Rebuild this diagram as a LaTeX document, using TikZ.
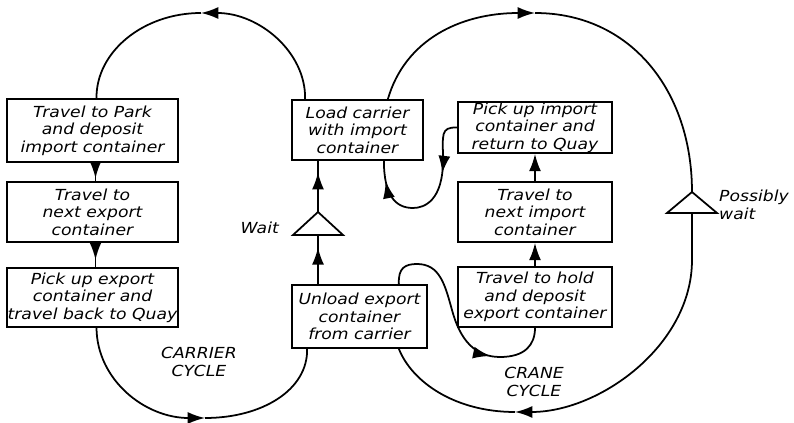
\documentclass[tikz,border=0pt]{standalone}
\usepackage{fontspec}
\newfontfamily\diagfont{DejaVu Sans}[FakeStretch=1.13]
\usetikzlibrary{positioning,calc,arrows.meta,decorations.markings}

\tikzset{
  stage/.style={draw,line width=1.5pt,align=center,inner sep=0pt,
    font=\diagfont\itshape\fontsize{13}{15}\selectfont},
  note/.style={align=center,inner sep=0pt,
    font=\diagfont\itshape\fontsize{13}{15.4}\selectfont},
  flow/.style={line width=1.5pt},
  tipat/.style={postaction={decorate,decoration={markings,
    mark=at position #1 with {\arrow{>}}}}}
}

\begin{document}
\begin{tikzpicture}[x=0.3mm,y=-0.3mm,>={Latex[length=5.2mm,width=3.6mm]}]
  \useasboundingbox (0,0) rectangle (794,423);

  % carrier side
  \node[stage,minimum width=51.3mm,minimum height=18.9mm] (park) at (92.5,130.5) {Travel to Park\\and deposit\\import container};
  \node[stage,minimum width=51.3mm,minimum height=18mm] (nextexp) at (92.5,212) {Travel to\\next export\\container};
  \node[stage,minimum width=51.3mm,minimum height=17.7mm] (pickexp) at (92.5,297.5) {Pick up export\\container and\\travel back to Quay};

  % quay
  \node[stage,minimum width=39.3mm,minimum height=18mm] (load) at (357.5,130) {Load carrier\\with import\\container};
  \node[stage,minimum width=40.5mm,minimum height=18.9mm] (unload) at (359.5,316.5) {Unload export\\container\\from carrier};

  % crane side
  \node[stage,minimum width=46.2mm,minimum height=15.3mm] (pickimp) at (535,127.5) {Pick up import\\container and\\return to Quay};
  \node[stage,minimum width=46.2mm,minimum height=18mm] (nextimp) at (535,212) {Travel to\\next import\\container};
  \node[stage,minimum width=46.2mm,minimum height=18mm] (hold) at (535,297) {Travel to hold\\and deposit\\export container};

  % queues
  \coordinate (waittop) at (318,212);
  \coordinate (waitbase) at (318,235);
  \draw[flow] (waittop) -- ++(25,23) -- ++(-50,0) -- cycle;
  \node[note,anchor=east] (waitlbl) at (279,228) {Wait};
  \coordinate (posstop) at (692,192);
  \coordinate (possbase) at (692,213);
  \draw[flow] (posstop) -- ++(25,21) -- ++(-50,0) -- cycle;
  \node[note,anchor=west,align=left] (posslbl) at (719,205) {Possibly\\wait};

  \node[note] (carrierlbl) at (199,362) {CARRIER\\CYCLE};
  \node[note] (cranelbl) at (534,382) {CRANE\\CYCLE};

  \coordinate (cartop) at (201,13);
  \coordinate (carbot) at (205,418);
  \coordinate (cranetop) at (535,13);
  \coordinate (cranebot) at (515,412);

  % carrier cycle
  \draw[flow,tipat=0.85] ($(park.south)+(3,0)$) -- ($(nextexp.north)+(3,0)$);
  \draw[flow,tipat=0.7] ($(nextexp.south)+(3,0)$) -- ($(pickexp.north)+(3,0)$);
  \draw[flow,->] ($(pickexp.south)+(4,0)$) .. controls (97,380) and (145,418) .. (carbot);
  \draw[flow] (carbot) .. controls (262,418) and (308,390) .. ($(unload.south west)+(16,0)$);
  \draw[flow,tipat=0.75] (unload.north -| waitbase) -- (waitbase);
  \draw[flow,tipat=0.78] (waittop) -- (load.south -| waittop);
  \draw[flow,->] ($(load.north west)+(14,0)$) .. controls (306,52) and (259,13) .. (cartop);
  \draw[flow] (cartop) .. controls (143,13) and (96,52) .. ($(park.north)+(4,0)$);

  % crane cycle
  \draw[flow,->] ($(load.north east)+(-36,0)$) .. controls (405,40) and (460,13) .. (cranetop);
  \draw[flow] (cranetop) .. controls (630,13) and (692,90) .. (posstop);
  \draw[flow,->] (possbase) -- (692,260) .. controls (692,345) and (600,412) .. (cranebot);
  \draw[flow] (cranebot) .. controls (455,412) and (412,382) .. ($(unload.south east)+(-29,0)$);
  \draw[flow,tipat=0.72] ($(unload.north east)+(-29,0)$) .. controls (398,268) and (405,264) .. (417,264)
    .. controls (440,264) and (445,285) .. (452,310)
    .. controls (460,340) and (475,357) .. (500,357)
    .. controls (525,357) and (535,345) .. (hold.south);
  \draw[flow,->] (hold.north) -- (nextimp.south);
  \draw[flow,->] (nextimp.north) -- (pickimp.south);
  \draw[flow,tipat=0.33,tipat=0.88] (pickimp.west) .. controls (440,127) and (443,135) .. (443,160)
    .. controls (443,200) and (425,208) .. (413,208)
    .. controls (395,208) and (384,195) .. ($(load.south east)+(-40,0)$);
\end{tikzpicture}
\end{document}
